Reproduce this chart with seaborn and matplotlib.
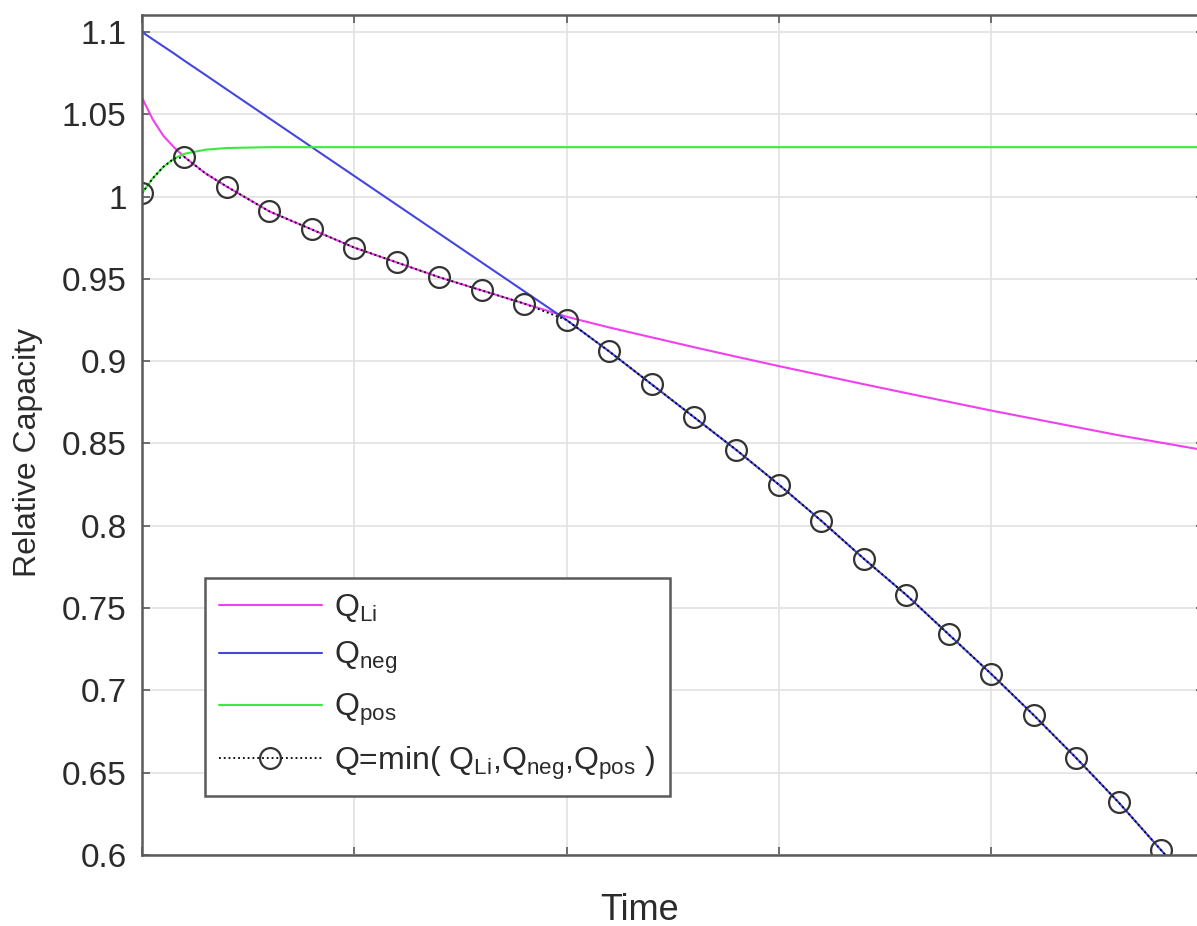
import numpy as np
import matplotlib
matplotlib.use('Agg')
import matplotlib.pyplot as plt
import seaborn as sns

# Values
time = [0, 0.05, 0.1, 0.15, 0.2, 0.3, 0.4, 0.6, 0.8, 1.0, 1.2, 1.4, 1.6, 1.8, 2.0,
        2.2, 2.4, 2.6, 2.8, 3.0, 3.2, 3.4, 3.6, 3.8, 4.0, 4.2, 4.4, 4.6, 4.8, 5.0]

q_li = [1.060, 1.047, 1.037, 1.030, 1.024, 1.014, 1.006, 0.991, 0.980, 0.969,
        0.960, 0.951, 0.943, 0.935, 0.927, 0.9205, 0.9145, 0.9085, 0.9027, 0.897,
        0.8915, 0.886, 0.8806, 0.8753, 0.870, 0.865, 0.860, 0.855, 0.8505, 0.846]

q_neg = [1.100, 1.0956, 1.0913, 1.087, 1.0825, 1.0738, 1.065, 1.0475, 1.030, 1.0125,
         0.995, 0.9775, 0.960, 0.9425, 0.925, 0.906, 0.886, 0.866, 0.846, 0.825,
         0.803, 0.780, 0.758, 0.734, 0.710, 0.685, 0.659, 0.632, 0.603, 0.574]

q_pos = [1.002, 1.011, 1.018, 1.023, 1.026, 1.0285, 1.0295, 1.030, 1.030, 1.030,
         1.030, 1.030, 1.030, 1.030, 1.030, 1.030, 1.030, 1.030, 1.030, 1.030,
         1.030, 1.030, 1.030, 1.030, 1.030, 1.030, 1.030, 1.030, 1.030, 1.030]

y_ticks = [0.6, 0.65, 0.7, 0.75, 0.8, 0.85, 0.9, 0.95, 1.0, 1.05, 1.1]
y_tick_labels = ['0.6', '0.65', '0.7', '0.75', '0.8', '0.85', '0.9', '0.95', '1', '1.05', '1.1']
x_ticks = [0, 1, 2, 3, 4, 5]

labels = [r'Q$_{Li}$', r'Q$_{neg}$', r'Q$_{pos}$',
          r'Q=min( Q$_{Li}$,Q$_{neg}$,Q$_{pos}$ )']

t = np.array(time)
q_min = np.minimum(np.minimum(q_li, q_neg), q_pos)
# circles every 0.2 up to 4.8
mark_idx = [i for i, v in enumerate(t) if np.isclose(round(v / 0.2) * 0.2, v) and v < 4.9]

sns.set_style('whitegrid')
plt.rcParams['font.family'] = ['Liberation Sans', 'DejaVu Sans']
plt.rcParams['mathtext.default'] = 'regular'

text_col = '#2b2b2b'
spine_col = '#5a5a5a'

fig = plt.figure(figsize=(11.97, 9.26), dpi=100)
ax = fig.add_axes([142 / 1197, 1 - 855 / 926, 1061.5 / 1197, 840 / 926])

sns.lineplot(x=t, y=q_li, color='#f040f0', linewidth=1.5, label=labels[0], ax=ax)
sns.lineplot(x=t, y=q_neg, color='#4545e0', linewidth=1.5, label=labels[1], ax=ax)
sns.lineplot(x=t, y=q_pos, color='#3ee83e', linewidth=1.5, label=labels[2], ax=ax)
sns.lineplot(x=t, y=q_min, color='black', linestyle=':', linewidth=1.3,
             marker='o', markevery=mark_idx, markersize=15,
             markerfacecolor='none', markeredgecolor='#333333', markeredgewidth=1.6,
             label=labels[3], ax=ax)

ax.set_xlim(0, 5)
ax.set_ylim(0.6, 1.1103)
ax.set_xticks(x_ticks)
ax.set_xticklabels([])
ax.set_yticks(y_ticks)
ax.set_yticklabels(y_tick_labels)

ax.grid(True, color='#e2e2e2', linewidth=1.2)
for side in ['left', 'top', 'bottom', 'right']:
    ax.spines[side].set_visible(True)
    ax.spines[side].set_color(spine_col)
    ax.spines[side].set_linewidth(1.8)

ax.tick_params(axis='both', which='both', direction='in', length=6, width=1.2,
               color=spine_col, top=True, right=True, left=True, bottom=True)
ax.tick_params(axis='y', labelsize=24, labelcolor=text_col, pad=11)

ax.set_ylabel('Relative Capacity', fontsize=23, color=text_col)
ax.set_xlabel('Time', fontsize=26, color=text_col)
ax.yaxis.set_label_coords((43 - 142) / 1061.5, (855 - 452) / 840)
ax.xaxis.set_label_coords((640 - 142) / 1061.5, (855 - 893) / 840)

leg = ax.legend(loc='lower left', bbox_to_anchor=((205 - 142) / 1061.5, (855 - 796) / 840),
                borderaxespad=0, fontsize=23, frameon=True, fancybox=False,
                handlelength=3.2, handletextpad=0.4, labelspacing=0.5,
                borderpad=0.45, numpoints=1)
leg.get_frame().set_edgecolor(spine_col)
leg.get_frame().set_linewidth(1.8)
leg.get_frame().set_facecolor('white')
leg.get_frame().set_alpha(1)
for txt in leg.get_texts():
    txt.set_color(text_col)

fig.savefig('out.png', dpi=100)
